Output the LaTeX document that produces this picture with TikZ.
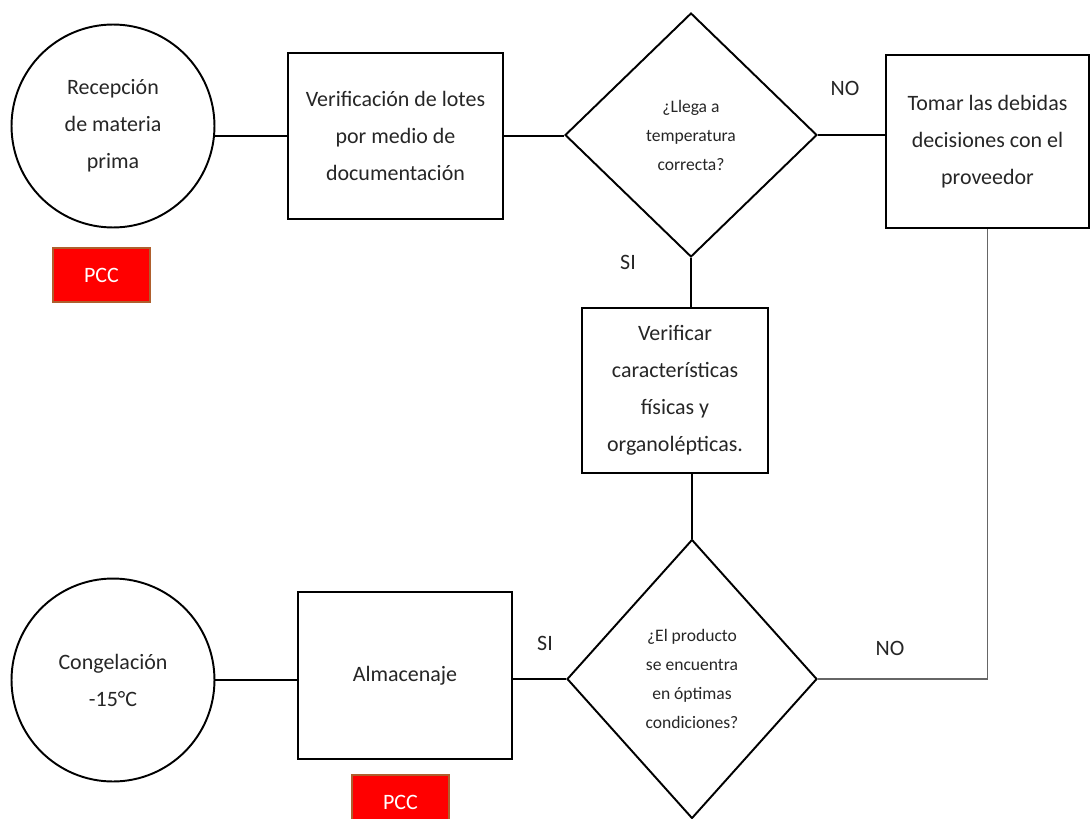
\documentclass[tikz,border=0pt]{standalone}
\usepackage{fontspec}
\setmainfont{Carlito}
\usetikzlibrary{positioning, shapes.geometric}
\definecolor{pccred}{RGB}{255,0,0}
\definecolor{pccedge}{RGB}{175,95,45}
\begin{document}
\begin{tikzpicture}[x=0.02cm, y=-0.02cm,
  every node/.style = {font=\fontsize{12.5}{21}\selectfont, text=black!85, align=center},
      circ/.style = {circle, draw, line width=1.1pt, minimum size=4.06cm, inner sep=0pt},
       box/.style = {rectangle, draw, line width=1.1pt, inner sep=2pt},
      dmnd/.style = {diamond, draw, line width=1.1pt, inner sep=0pt,
                     font=\fontsize{10}{16.5}\selectfont},
       pcc/.style = {rectangle, fill=pccred, draw=pccedge, line width=1pt,
                     minimum width=1.94cm, minimum height=1.08cm, text=white},
       lnk/.style = {line width=0.6pt}
                    ]
\useasboundingbox (0,0) rectangle (1091,818);
\node (recep) [circ] at (113,126) {Recepción\\de materia\\prima};
\node (pcca)  [pcc]  at (101.5,275) {PCC};
\node (lotes) [box, minimum width=4.3cm, minimum height=3.32cm] at (395.5,136)
      {Verificación de lotes\\por medio de\\documentación};
\node (temp)  [dmnd, minimum width=5.04cm, minimum height=4.88cm] at (691,135)
      {¿Llega a\\temperatura\\correcta?};
\node (prov)  [box, minimum width=4.06cm, minimum height=3.46cm] at (987.5,141.5)
      {Tomar las debidas\\decisiones con el\\proveedor};
\node (carac) [box, minimum width=3.72cm, minimum height=3.3cm] at (675,390.5)
      {Verificar\\características\\físicas y\\organolépticas.};
\node (cond)  [dmnd, minimum width=5cm, minimum height=5.58cm] at (692,679)
      {¿El producto\\se encuentra\\en óptimas\\condiciones?};
\node (almac) [box, minimum width=4.28cm, minimum height=3.34cm] at (405,675.5) {Almacenaje};
\node (pccb)  [pcc]  at (400.5,802) {PCC};
\node (cong)  [circ] at (113,680) {Congelación\\-15°C};
% etiquetas
\node (noa) at (845,88)  {NO};
\node (sia) at (628,262) {SI};
\node (sib) at (545,643) {SI};
\node (nob) at (890,648) {NO};
% conectores
\draw[lnk] (recep.east |- lotes.west) -- (lotes.west);
\draw[lnk] (lotes.east) -- (lotes.east -| temp.west);
\draw[lnk] (temp.east) -- (temp.east -| prov.west);
\draw[lnk] (temp.south) -- (temp.south |- carac.north);
\draw[lnk] (carac.south -| cond.north) -- (cond.north);
\draw[lnk, black!60] (cond.east) -| (prov.south);
\draw[lnk] (cond.west) -- (cond.west -| almac.east);
\draw[lnk] (almac.west |- cong.east) -- (cong.east);
\end{tikzpicture}
\end{document}
